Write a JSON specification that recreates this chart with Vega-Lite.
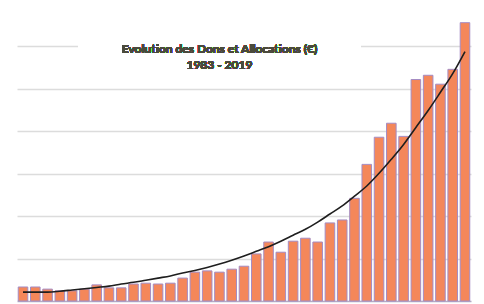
{
  "$schema": "https://vega.github.io/schema/vega-lite/v6.json",
  "width": 484,
  "height": 304,
  "autosize": {"type": "fit", "contains": "padding"},
  "padding": {"left": 17, "right": 13, "top": 4, "bottom": 2},
  "background": "#ffffff",
  "config": {"view": {"stroke": null}},
  "data": {"values": [
    {"year": "1983", "value": 0.33, "trend": 0.21},
    {"year": "1984", "value": 0.33, "trend": 0.21},
    {"year": "1985", "value": 0.28, "trend": 0.21},
    {"year": "1986", "value": 0.24, "trend": 0.23},
    {"year": "1987", "value": 0.24, "trend": 0.26},
    {"year": "1988", "value": 0.28, "trend": 0.29},
    {"year": "1989", "value": 0.38, "trend": 0.32},
    {"year": "1990", "value": 0.31, "trend": 0.35},
    {"year": "1991", "value": 0.31, "trend": 0.40},
    {"year": "1992", "value": 0.40, "trend": 0.44},
    {"year": "1993", "value": 0.42, "trend": 0.49},
    {"year": "1994", "value": 0.40, "trend": 0.54},
    {"year": "1995", "value": 0.42, "trend": 0.59},
    {"year": "1996", "value": 0.54, "trend": 0.66},
    {"year": "1997", "value": 0.68, "trend": 0.72},
    {"year": "1998", "value": 0.71, "trend": 0.79},
    {"year": "1999", "value": 0.68, "trend": 0.87},
    {"year": "2000", "value": 0.75, "trend": 0.96},
    {"year": "2001", "value": 0.82, "trend": 1.06},
    {"year": "2002", "value": 1.11, "trend": 1.17},
    {"year": "2003", "value": 1.39, "trend": 1.28},
    {"year": "2004", "value": 1.15, "trend": 1.41},
    {"year": "2005", "value": 1.41, "trend": 1.55},
    {"year": "2006", "value": 1.48, "trend": 1.69},
    {"year": "2007", "value": 1.39, "trend": 1.86},
    {"year": "2008", "value": 1.84, "trend": 2.05},
    {"year": "2009", "value": 1.91, "trend": 2.24},
    {"year": "2010", "value": 2.42, "trend": 2.47},
    {"year": "2011", "value": 3.22, "trend": 2.71},
    {"year": "2012", "value": 3.86, "trend": 3.01},
    {"year": "2013", "value": 4.19, "trend": 3.34},
    {"year": "2014", "value": 3.88, "trend": 3.69},
    {"year": "2015", "value": 5.22, "trend": 4.09},
    {"year": "2016", "value": 5.32, "trend": 4.49},
    {"year": "2017", "value": 5.11, "trend": 4.92},
    {"year": "2018", "value": 5.46, "trend": 5.36},
    {"year": "2019", "value": 6.56, "trend": 5.88}
  ]},
  "encoding": {
    "x": {
      "field": "year", "type": "ordinal",
      "scale": {"paddingInner": 0.22, "paddingOuter": 0.1},
      "axis": {"title": null, "labels": false, "ticks": false, "domain": true, "domainColor": "#b4aac4", "domainWidth": 1.5, "grid": false}
    }
  },
  "layer": [
    {
      "mark": {"type": "bar", "color": "#f4875a", "stroke": "#a48cc4", "strokeWidth": 1},
      "encoding": {
        "y": {
          "field": "value", "type": "quantitative",
          "scale": {"domain": [0, 7], "nice": false, "zero": true},
          "axis": {"title": null, "labels": false, "ticks": false, "domain": false, "grid": true, "values": [1, 2, 3, 4, 5, 6], "gridColor": "#dcdcdc", "gridWidth": 1.5}
        }
      }
    },
    {
      "mark": {"type": "rect", "fill": "#ffffff", "width": {"band": 29.5}},
      "encoding": {
        "x": {"datum": "1999"},
        "y": {"datum": 5.5},
        "y2": {"datum": 6.4}
      }
    },
    {
      "mark": {"type": "text", "text": ["Evolution des Dons et Allocations (€)", "1983 - 2019"], "font": "Lato", "fontSize": 12, "fontWeight": "bold", "color": "#4a4a3c", "lineHeight": 16, "baseline": "middle", "align": "center"},
      "encoding": {
        "x": {"datum": "1999"},
        "y": {"datum": 5.93}
      }
    },
    {
      "mark": {"type": "line", "color": "#1e1e1e", "strokeWidth": 1.6, "interpolate": "monotone"},
      "encoding": {
        "y": {"field": "trend", "type": "quantitative"}
      }
    }
  ]
}
